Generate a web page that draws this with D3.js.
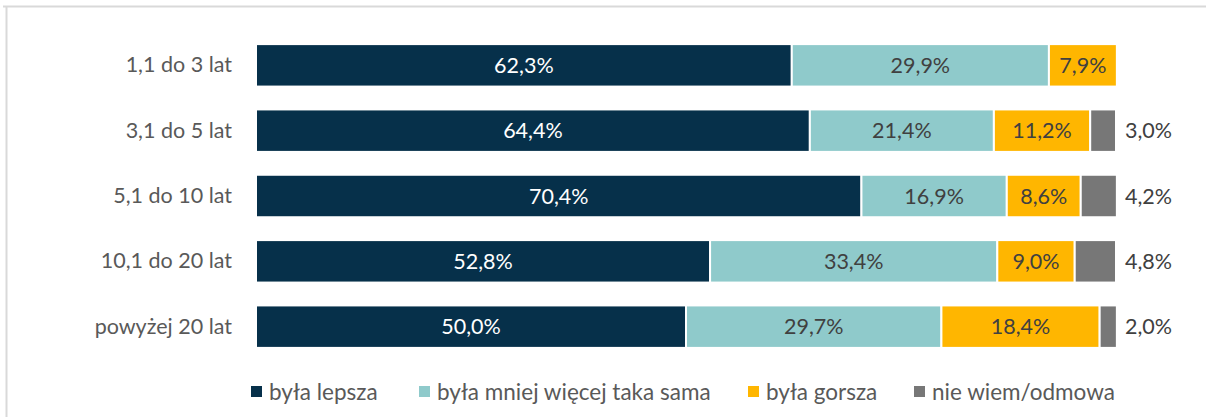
<!DOCTYPE html>
<html>
<head>
    <meta charset="utf-8">
    <script src="https://d3js.org/d3.v7.min.js"></script>
    <style>
        body { margin: 0; background: #fff; }
        text { font-family: Lato, "Open Sans", sans-serif; }
    </style>
</head>
<body>
    <svg id="chart"></svg>
    <script>
        var Width = 1206, Height = 417;

        var categories = ["1,1 do 3 lat", "3,1 do 5 lat", "5,1 do 10 lat", "10,1 do 20 lat", "powyżej 20 lat"];
        var series = ["była lepsza", "była mniej więcej taka sama", "była gorsza", "nie wiem/odmowa"];
        var colors = ["#06304a", "#8fcacb", "#ffb600", "#777777"];
        var lepsza  = [62.3, 64.4, 70.4, 52.8, 50.0];
        var taka    = [29.9, 21.4, 16.9, 33.4, 29.7];
        var gorsza  = [7.9, 11.2, 8.6, 9.0, 18.4];
        var niewiem = [0, 3.0, 4.2, 4.8, 2.0];
        var values = [lepsza, taka, gorsza, niewiem];

        var fmt = function(v) { return v.toFixed(1).replace(".", ",") + "%"; };

        var svg = d3.select("#chart").attr("width", Width).attr("height", Height);

        // frame (only top and left edges visible)
        svg.append("line").attr("x1", 3).attr("x2", Width).attr("y1", 6.5).attr("y2", 6.5)
            .attr("stroke", "#d9d9d9").attr("stroke-width", 2);
        svg.append("line").attr("x1", 6.5).attr("x2", 6.5).attr("y1", 6).attr("y2", Height)
            .attr("stroke", "#d9d9d9").attr("stroke-width", 2);

        var x = d3.scaleLinear().domain([0, 100]).range([256, 1116]);
        var y = d3.scaleBand().domain(categories).range([33, 359]).paddingInner(0.35).paddingOuter(0.17);

        var rows = categories.map(function(c, i) {
            var acc = 0;
            return series.map(function(s, j) {
                var v = values[j][i];
                var seg = { cat: c, series: j, v: v, x0: acc, x1: acc + v };
                acc += v;
                return seg;
            });
        });
        var segs = d3.merge(rows).filter(function(d) { return d.v > 0; });

        svg.selectAll(".bar").data(segs).enter().append("rect").attr("class", "bar")
            .attr("x", function(d) { return x(d.x0); })
            .attr("width", function(d) { return x(d.x1) - x(d.x0); })
            .attr("y", function(d) { return y(d.cat); })
            .attr("height", y.bandwidth())
            .attr("fill", function(d) { return colors[d.series]; })
            .attr("stroke", "#fff").attr("stroke-width", 2);

        // labels inside (first three series), outside for the last
        svg.selectAll(".lbl").data(segs).enter().append("text").attr("class", "lbl")
            .attr("x", function(d) { return d.series === 3 ? x(100) + 9 : (x(d.x0) + x(d.x1)) / 2; })
            .attr("y", function(d) { return y(d.cat) + y.bandwidth() / 2; })
            .attr("dy", "0.35em")
            .attr("text-anchor", function(d) { return d.series === 3 ? "start" : "middle"; })
            .attr("font-size", 21.5)
            .attr("fill", function(d) { return d.series === 0 ? "#ffffff" : "#404040"; })
            .text(function(d) { return fmt(d.v); });

        var yAxis = svg.append("g").attr("transform", "translate(240,0)")
            .call(d3.axisLeft(y).tickSize(0).tickPadding(8));
        yAxis.select(".domain").remove();
        yAxis.selectAll("text").attr("font-size", 21.5).attr("fill", "#595959")
            .style("font-family", "Lato, 'Open Sans', sans-serif");

        // legend
        var legendX = [251, 419, 748, 914];
        var lg = svg.selectAll(".lg").data(series).enter().append("g").attr("class", "lg")
            .attr("transform", function(d, i) { return "translate(" + legendX[i] + ",392)"; });
        lg.append("rect").attr("x", 0).attr("y", -6).attr("width", 11).attr("height", 11)
            .attr("fill", function(d, i) { return colors[i]; });
        lg.append("text").attr("x", 18).attr("y", 0).attr("dy", "0.35em")
            .attr("font-size", 22.5).attr("fill", "#595959")
            .text(function(d) { return d; });
    </script>
</body>
</html>
